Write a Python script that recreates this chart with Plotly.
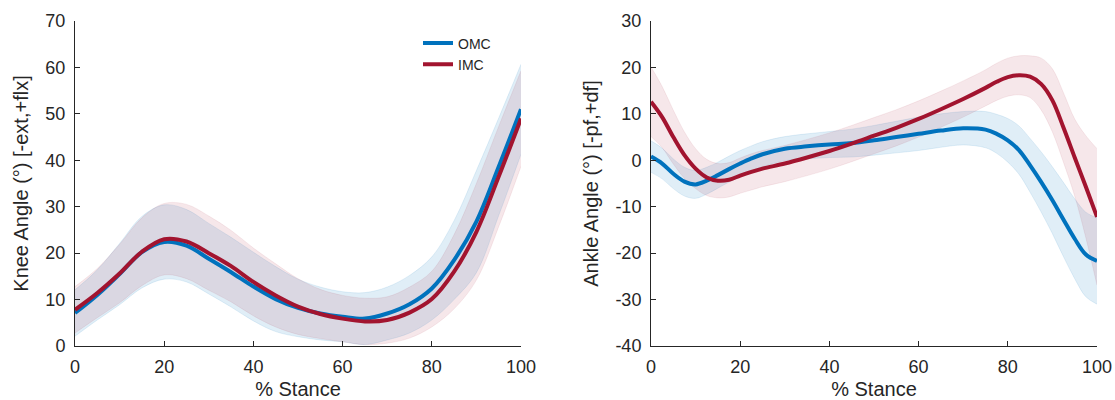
import plotly.graph_objects as go

# ---------------- data ----------------
knee_x = [0, 5, 10, 15, 20, 25, 30, 35, 40, 45, 50, 55, 60, 65, 70, 75, 80, 85, 90, 95, 100]
knee_omc_mean = [7.1, 11.0, 15.5, 20.2, 22.4, 21.6, 18.8, 15.9, 12.8, 10.1, 8.2, 7.0, 6.3, 5.9, 7.0, 9.0, 12.4, 18.5, 26.8, 38.6, 51.0]
knee_omc_sd = [5.0, 5.4, 6.6, 7.7, 8.0, 7.8, 7.6, 7.5, 7.4, 7.0, 6.2, 5.7, 5.4, 5.6, 5.7, 6.2, 6.8, 8.5, 11.0, 10.5, 9.7]
knee_imc_mean = [7.8, 11.4, 15.6, 20.3, 23.0, 22.5, 20.0, 17.2, 13.8, 10.9, 8.5, 6.9, 5.9, 5.3, 5.6, 7.2, 10.1, 16.0, 24.6, 36.5, 49.0]
knee_imc_sd = [5.0, 5.3, 6.3, 7.3, 7.7, 8.0, 8.0, 7.7, 7.3, 6.8, 6.0, 5.3, 5.0, 5.0, 5.0, 5.5, 6.0, 8.0, 10.4, 10.8, 10.3]

ankle_x = [0, 2.5, 5, 7.5, 10, 12.5, 15, 17.5, 20, 22.5, 25, 30, 35, 40, 45, 50, 55, 60, 65, 70,
           75, 77.5, 80, 82.5, 85, 87.5, 90, 92.5, 95, 97.5, 100]
ankle_omc_mean = [0.8, -0.7, -2.9, -4.6, -5.2, -4.4, -3.2, -1.9, -0.7, 0.4, 1.3, 2.5, 3.0, 3.4, 3.7, 4.3, 5.0, 5.7, 6.4, 6.9,
                  6.6, 5.7, 4.3, 2.2, -1.1, -4.7, -8.6, -12.8, -16.9, -20.3, -21.7]
ankle_omc_sd = [3.4, 3.3, 3.2, 3.1, 3.0, 2.9, 2.8, 2.8, 2.8, 2.7, 2.7, 2.6, 2.7, 2.8, 3.0, 3.2, 3.4, 3.6, 3.6, 3.6,
                3.9, 4.2, 4.7, 5.2, 5.8, 6.5, 7.2, 8.0, 8.6, 9.1, 9.3]
ankle_imc_mean = [12.6, 9.3, 5.0, 1.1, -1.8, -3.7, -4.4, -4.2, -3.3, -2.5, -1.8, -0.7, 0.6, 2.0, 3.6, 5.3, 7.0, 8.9, 11.0, 13.2,
                  15.6, 16.9, 17.9, 18.3, 18.0, 16.4, 12.9, 7.0, 0.6, -5.7, -12.2]
ankle_imc_sd = [7.5, 6.6, 5.8, 5.0, 4.3, 3.9, 3.7, 3.7, 3.8, 3.9, 3.9, 3.9, 3.9, 3.9, 3.9, 3.9, 3.9, 3.9, 3.9, 3.9,
                3.9, 4.0, 4.1, 4.2, 4.5, 5.6, 6.8, 7.5, 8.3, 11.0, 14.7]

series_names = ["OMC", "IMC"]
x_ticks = [0, 20, 40, 60, 80, 100]
knee_ticks = [0, 10, 20, 30, 40, 50, 60, 70]
ankle_ticks = [-40, -30, -20, -10, 0, 10, 20, 30]

# ---------------- style ----------------
BLUE = "#0072BD"
RED = "#A2142F"
BLUE_FILL = "rgba(0,114,189,0.12)"
RED_FILL = "rgba(162,20,47,0.10)"
BLUE_EDGE = "rgba(0,114,189,0.10)"
RED_EDGE = "rgba(162,20,47,0.08)"
TXT = "#262626"
FONT = "Liberation Sans, Arial, Helvetica, sans-serif"

fig = go.Figure()


def add_band(x, mean, sd, fill, edge, xa, ya):
    upper = [m + s for m, s in zip(mean, sd)]
    lower = [m - s for m, s in zip(mean, sd)]
    fig.add_trace(go.Scatter(
        x=x, y=lower, mode="lines", line=dict(color=edge, width=1, shape="spline"),
        hoverinfo="skip", showlegend=False, xaxis=xa, yaxis=ya))
    fig.add_trace(go.Scatter(
        x=x, y=upper, mode="lines", fill="tonexty", fillcolor=fill,
        line=dict(color=edge, width=1, shape="spline"),
        hoverinfo="skip", showlegend=False, xaxis=xa, yaxis=ya))


def add_line(x, mean, color, name, show, xa, ya):
    fig.add_trace(go.Scatter(
        x=x, y=mean, mode="lines", name=name,
        line=dict(color=color, width=4, shape="spline"),
        showlegend=show, xaxis=xa, yaxis=ya))


add_band(knee_x, knee_omc_mean, knee_omc_sd, BLUE_FILL, BLUE_EDGE, "x", "y")
add_band(knee_x, knee_imc_mean, knee_imc_sd, RED_FILL, RED_EDGE, "x", "y")
add_band(ankle_x, ankle_omc_mean, ankle_omc_sd, BLUE_FILL, BLUE_EDGE, "x2", "y2")
add_band(ankle_x, ankle_imc_mean, ankle_imc_sd, RED_FILL, RED_EDGE, "x2", "y2")

add_line(knee_x, knee_omc_mean, BLUE, series_names[0], True, "x", "y")
add_line(knee_x, knee_imc_mean, RED, series_names[1], True, "x", "y")
add_line(ankle_x, ankle_omc_mean, BLUE, series_names[0], False, "x2", "y2")
add_line(ankle_x, ankle_imc_mean, RED, series_names[1], False, "x2", "y2")

W, H = 1115, 400
y_dom = [(H - 346) / H, (H - 21) / H]

axis_common = dict(
    showline=True, linecolor=TXT, linewidth=1, ticks="inside", ticklen=5,
    tickcolor=TXT, tickwidth=1, showgrid=False, zeroline=False,
    tickfont=dict(family=FONT, size=18, color=TXT), automargin=False,
    mirror=False,
)
title_font = dict(size=20, family=FONT, color=TXT)


def labels(vals):
    return [str(v) for v in vals]


fig.update_layout(
    width=W, height=H, margin=dict(l=0, r=0, t=0, b=0),
    paper_bgcolor="white", plot_bgcolor="white",
    font=dict(family=FONT, color=TXT),
    xaxis=dict(domain=[75 / W, 521 / W], range=[0, 100], tickvals=x_ticks, ticktext=labels(x_ticks),
               anchor="y", ticklabelstandoff=4,
               title=dict(text="% Stance", font=title_font, standoff=6), **axis_common),
    yaxis=dict(domain=y_dom, range=[0, 70], tickvals=knee_ticks, ticktext=labels(knee_ticks),
               anchor="x", ticklabelstandoff=5,
               title=dict(text="Knee Angle (°) [-ext,+flx]", font=title_font, standoff=11), **axis_common),
    xaxis2=dict(domain=[651 / W, 1097 / W], range=[0, 100], tickvals=x_ticks, ticktext=labels(x_ticks),
                anchor="y2", ticklabelstandoff=4,
                title=dict(text="% Stance", font=title_font, standoff=6), **axis_common),
    yaxis2=dict(domain=y_dom, range=[-40, 30], tickvals=ankle_ticks, ticktext=labels(ankle_ticks),
                anchor="x2", ticklabelstandoff=5,
                title=dict(text="Ankle Angle (°) [-pf,+df]", font=title_font, standoff=11), **axis_common),
    legend=dict(x=418 / W, y=(H - 27.5) / H, xanchor="left", yanchor="top",
                font=dict(family=FONT, size=14, color=TXT), bgcolor="rgba(0,0,0,0)",
                tracegroupgap=0, itemwidth=30, traceorder="normal"),
    showlegend=True,
)

fig.write_html("out.html")
